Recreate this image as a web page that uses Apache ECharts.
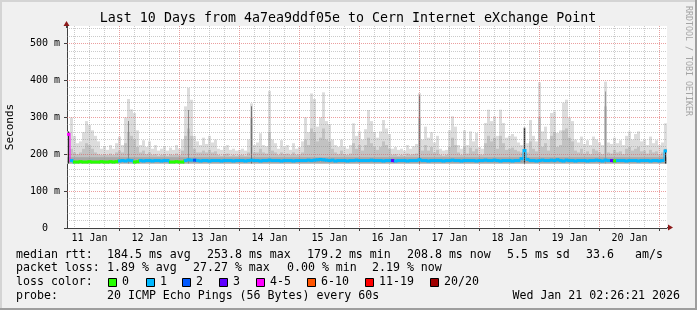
<!DOCTYPE html>
<html><head><meta charset="utf-8">
<script src="https://cdn.jsdelivr.net/npm/echarts@6/dist/echarts.min.js"></script>
<style>html,body{margin:0;padding:0;background:#f0f0f0}#c{width:697px;height:310px}</style>
</head><body><div id="c"></div>
<script>
// ---------------- data ----------------
const titleText = 'Last 10 Days from 4a7ea9ddf05e to Cern Internet eXchange Point';
const dayLabels = ['11 Jan','12 Jan','13 Jan','14 Jan','15 Jan','16 Jan','17 Jan','18 Jan','19 Jan','20 Jan'];
const yTickValues = [0,100,200,300,400,500];
const START_HOUR = 3;      // left edge, hours after 11 Jan 00:00
const END_HOUR = 243;      // right edge
const SLOT_HOURS = 1.2;    // width of one sample
const Y_MAX = 548;         // ms at top of plot
const SMOKE_FLOOR = 175;   // ms, lowest ping in the smoke
const SMOKE_CORE = 192;    // ms, dense core of the smoke

// highest ping per slot (ms)
const smokeMax = [
262,300,250,230,235,260,290,280,265,250,
235,215,222,212,225,215,230,248,225,300,
350,322,312,265,225,238,220,235,215,225,
210,215,222,210,218,212,225,215,240,330,
380,348,250,235,225,245,228,250,232,240,
215,212,220,225,212,215,210,212,215,210,
240,338,225,232,257,225,222,372,240,230,
215,238,220,225,212,230,215,220,235,300,
260,365,350,275,300,368,290,282,240,225,
220,240,220,215,225,284,250,262,240,268,
320,290,260,245,262,293,270,255,215,220,
212,215,210,225,215,222,228,366,240,275,
245,260,232,250,215,210,212,265,303,275,
225,215,265,225,262,235,258,220,215,285,
321,290,303,250,321,285,245,250,255,248,
232,225,272,230,293,250,235,395,262,275,
240,312,316,258,265,340,348,300,290,240,
232,248,228,238,225,248,240,232,225,397,
232,228,245,230,238,225,250,262,240,255,
262,235,240,225,248,230,238,225,232,284];

// upper edge of the denser smoke per slot (ms)
const smokeMid = [
250,215,205,200,205,215,230,225,215,205,
200,198,200,198,202,198,205,210,205,230,
260,250,240,220,205,210,200,205,198,200,
196,198,200,196,200,198,202,198,210,250,
270,250,215,205,205,210,205,212,205,208,
198,196,200,202,196,198,196,198,198,196,
205,300,205,205,215,205,202,260,210,205,
198,205,200,202,198,205,198,200,205,240,
225,270,260,235,245,270,240,235,215,205,
200,210,200,198,202,230,215,225,210,225,
245,230,220,212,220,235,225,215,198,200,
196,198,196,202,198,200,202,300,210,225,
210,220,205,212,198,196,198,220,245,225,
205,198,220,202,218,208,215,200,198,230,
250,235,245,215,250,230,212,215,218,212,
208,205,272,205,235,215,208,300,220,230,
210,250,260,220,225,265,270,245,235,210,
205,215,202,208,200,215,210,205,200,330,
205,202,212,205,208,200,215,220,210,215,
220,208,210,202,212,205,208,200,205,215];

// median rtt per slot (ms)
const medianRtt = [
254,183,179,179,180,179,179,180,179,179,
179,180,179,179,180,179,180,182,183,182,
184,183,179,180,183,182,183,183,182,183,
183,182,183,183,179,179,180,179,179,183,
185,184,184,183,182,183,183,182,183,183,
183,182,183,183,183,182,183,183,183,182,
183,184,183,183,182,183,183,184,183,183,
183,182,183,183,183,182,183,183,183,183,
184,183,184,185,186,185,184,183,184,182,
183,183,183,182,183,183,184,183,183,183,
183,184,183,183,183,182,183,183,183,182,
183,183,183,182,183,183,183,185,183,183,
182,183,183,183,183,182,183,183,184,183,
183,182,183,183,183,183,182,183,183,184,
183,183,184,183,182,183,183,183,182,183,
183,188,210,186,183,183,182,183,184,183,
183,184,183,185,183,182,184,183,183,182,
183,183,183,182,183,183,184,183,182,184,
183,183,182,183,183,183,182,183,183,183,
182,183,183,183,182,183,183,182,183,209];

// lost pings (of 20) per slot
const lossCount = [
5,1,0,0,0,0,0,0,0,0,
0,0,0,0,0,0,0,1,1,1,
1,1,0,0,1,1,1,1,1,1,
1,1,1,1,0,0,0,0,0,1,
1,1,2,1,1,1,1,1,1,1,
1,1,1,1,1,1,1,1,1,1,
1,1,1,1,1,1,1,1,1,1,
1,1,1,1,1,1,1,1,1,1,
1,1,1,1,1,1,1,1,1,1,
1,1,1,1,1,1,1,1,1,1,
1,1,1,1,1,1,1,1,3,1,
1,1,1,1,1,1,1,1,1,1,
1,1,1,1,1,1,1,1,1,1,
1,1,1,1,1,1,1,1,1,1,
1,1,1,1,1,1,1,1,1,1,
1,1,1,1,1,1,1,1,1,1,
1,1,1,1,1,1,1,1,1,1,
1,1,1,1,1,1,1,1,1,1,
1,3,0,1,1,1,1,1,1,1,
1,1,1,1,1,1,1,1,1,1];

// very dense (dark) smoke columns
const darkSlots = [0, 20, 40, 61, 117, 152, 179, 199];
const darkTops  = [262, 290, 320, 330, 360, 272, 370, 212];
const darkShade = ['#222222','#8a8a8a','#8a8a8a','#707070','#707070','#333333','#9a9a9a','#222222'];

const lossLegend = [
  ['0','#26ff00'],['1','#00b8ff'],['2','#0059ff'],['3','#5e00ff'],
  ['4-5','#ff00ff'],['6-10','#ff5500'],['11-19','#ff0000'],['20/20','#a00000']];

const legendRtt  = [['median rtt:',16],['184.5 ms avg',107],['253.8 ms max',207],['179.2 ms min',307],['208.8 ms now',407],['5.5 ms sd',507],['33.6',586],['am/s',635]];
const legendLoss = [['packet loss:',16],['1.89 % avg',107],['27.27 % max',193],['0.00 % min',287],['2.19 % now',372]];
const legendProbe = [['probe:',16],['20 ICMP Echo Pings (56 Bytes) every 60s',107]];
const stampText = 'Wed Jan 21 02:26:21 2026';
const watermark = 'RRDTOOL / TOBI OETIKER';

// ---------------- chart ----------------
const MONO = '"DejaVu Sans Mono", monospace';
const LEG_FONT = 11.6;
function lossColor(n){
  if (n <= 0) return '#26ff00';
  if (n <= 1) return '#00b8ff';
  if (n <= 2) return '#0059ff';
  if (n <= 3) return '#5e00ff';
  if (n <= 5) return '#ff00ff';
  if (n <= 10) return '#ff5500';
  if (n <= 19) return '#ff0000';
  return '#a00000';
}
const slotStart = i => START_HOUR + i * SLOT_HOURS;

const noonHours = dayLabels.map((d, k) => 12 + 24 * k);
const midnightHours = [];
const vGrid = [];
for (let h = 6; h < END_HOUR; h += 6) { vGrid.push([h, 0, h % 24 === 0 ? 1 : 0]); if (h % 24 === 0) midnightHours.push(h); }
const hGrid = [];
for (let v = 20; v < Y_MAX; v += 20) hGrid.push([START_HOUR, v, v % 100 === 0 ? 1 : 0]);

const smokeData = smokeMax.map((m, i) => [slotStart(i), m, smokeMid[i]]);
const darkData = darkSlots.map((s, k) => [slotStart(s), darkTops[k], k]);
const medianData = medianRtt.map((m, i) => [slotStart(i), m, lossCount[i]]);

const MINOR = 'rgba(140,140,140,0.45)';
const MAJOR = 'rgba(222,95,95,0.6)';
const crisp = v => Math.round(v - 0.5) + 0.5;

const chart = echarts.init(document.getElementById('c'), null, {renderer: 'canvas'});
const option = {
  backgroundColor: '#f0f0f0',
  animation: false,
  grid: {left: 67, top: 26, width: 600, height: 202, show: true, backgroundColor: '#ffffff', borderWidth: 0, outerBoundsMode: 'none'},
  xAxis: {
    type: 'value', min: START_HOUR, max: END_HOUR,
    axisLine: {show: true, lineStyle: {color: '#404040', width: 1}},
    axisTick: {show: true, customValues: midnightHours, length: 3, lineStyle: {color: '#404040'}},
    axisLabel: {customValues: noonHours, formatter: v => dayLabels[Math.round((v - 12) / 24)],
      fontFamily: MONO, fontSize: 10, color: '#000', margin: 5},
    splitLine: {show: false}
  },
  yAxis: {
    type: 'value', min: 0, max: Y_MAX,
    name: 'Seconds', nameLocation: 'middle', nameGap: 51, nameRotate: 90,
    nameTextStyle: {fontFamily: MONO, fontSize: 11, color: '#000'},
    axisLine: {show: true, lineStyle: {color: '#404040', width: 1}},
    axisTick: {show: true, customValues: yTickValues, length: 3, lineStyle: {color: '#404040'}},
    axisLabel: {customValues: yTickValues, formatter: v => v === 0 ? '0  ' : v + ' m',
      fontFamily: MONO, fontSize: 10, color: '#000', margin: 7},
    splitLine: {show: false}
  },
  series: [
    { type: 'custom', name: 'smoke', z: 1, clip: true, data: smokeData,
      renderItem: (params, api) => {
        const x0 = api.value(0);
        const b = api.coord([x0, SMOKE_FLOOR]);
        const t = api.coord([x0 + SLOT_HOURS, api.value(1)]);
        const m = api.coord([x0 + SLOT_HOURS, api.value(2)]);
        const c = api.coord([x0 + SLOT_HOURS, SMOKE_CORE]);
        const w = t[0] - b[0];
        return {type: 'group', children: [
          {type: 'rect', shape: {x: b[0], y: t[1], width: w, height: b[1] - t[1]}, style: {fill: '#dcdcdc'}},
          {type: 'rect', shape: {x: b[0], y: m[1], width: w, height: b[1] - m[1]}, style: {fill: '#c2c2c2'}},
          {type: 'rect', shape: {x: b[0], y: c[1], width: w, height: b[1] - c[1]}, style: {fill: '#a8a8a8'}}
        ]};
      } },
    { type: 'custom', name: 'dark', z: 2, clip: true, data: darkData,
      renderItem: (params, api) => {
        const x0 = api.value(0);
        const b = api.coord([x0, SMOKE_FLOOR]);
        const t = api.coord([x0, api.value(1)]);
        return {type: 'rect', shape: {x: Math.round(b[0]) + 1, y: t[1], width: 1, height: b[1] - t[1]}, style: {fill: darkShade[api.value(2)]}};
      } },
    { type: 'custom', name: 'vgrid', z: 3, clip: true, silent: true, data: vGrid,
      renderItem: (params, api) => {
        const p0 = api.coord([api.value(0), 0]);
        const p1 = api.coord([api.value(0), Y_MAX]);
        const x = crisp(p0[0]);
        return {type: 'line', shape: {x1: x, y1: p1[1], x2: x, y2: p0[1]},
          style: {stroke: api.value(2) ? MAJOR : MINOR, lineWidth: 1, lineDash: [1, 1]}};
      } },
    { type: 'custom', name: 'hgrid', z: 3, clip: true, silent: true, data: hGrid,
      renderItem: (params, api) => {
        const p0 = api.coord([START_HOUR, api.value(1)]);
        const p1 = api.coord([END_HOUR, api.value(1)]);
        const y = crisp(p0[1]);
        return {type: 'line', shape: {x1: p0[0], y1: y, x2: p1[0], y2: y},
          style: {stroke: api.value(2) ? MAJOR : MINOR, lineWidth: 1, lineDash: [1, 1]}};
      } },
    { type: 'custom', name: 'median', z: 4, clip: true, data: medianData,
      renderItem: (params, api) => {
        const i = params.dataIndex;
        const x0 = api.value(0);
        const a = api.coord([x0, api.value(1)]);
        const b = api.coord([x0 + SLOT_HOURS, api.value(1)]);
        const col = lossColor(api.value(2));
        const kids = [{type: 'rect', shape: {x: a[0], y: a[1] - 1.5, width: b[0] - a[0], height: 3}, style: {fill: col}}];
        if (i + 1 < medianRtt.length && medianRtt[i + 1] !== medianRtt[i]) {
          const n = api.coord([x0 + SLOT_HOURS, medianRtt[i + 1]]);
          const y1 = Math.min(a[1], n[1]) - 1.5, y2 = Math.max(a[1], n[1]) + 1.5;
          kids.push({type: 'rect', shape: {x: b[0] - 0.5, y: y1, width: 1, height: y2 - y1}, style: {fill: col}});
        }
        return {type: 'group', children: kids};
      } }
  ]
};
chart.setOption(option);

// ---------------- decorations & legend text ----------------
const yTop = chart.convertToPixel({gridIndex: 0}, [START_HOUR, Y_MAX]);
const xEnd = chart.convertToPixel({gridIndex: 0}, [END_HOUR, 0]);
const ARROW = '#8c1a1a';
function txt(s, x, y, align, size){
  return {type: 'text', x: x, y: y, z: 100,
    style: {text: s, fontFamily: MONO, fontSize: size || LEG_FONT, fill: '#000', align: align || 'left', verticalAlign: 'middle'}};
}
const g = [
  {type: 'rect', shape: {x: 0, y: 0, width: 697, height: 2}, style: {fill: '#d4d4d4'}, z: 100},
  {type: 'rect', shape: {x: 0, y: 0, width: 2, height: 310}, style: {fill: '#d4d4d4'}, z: 100},
  {type: 'rect', shape: {x: 0, y: 308, width: 697, height: 2}, style: {fill: '#9e9e9e'}, z: 100},
  {type: 'rect', shape: {x: 695, y: 0, width: 2, height: 310}, style: {fill: '#9e9e9e'}, z: 100},
  {type: 'line', shape: {x1: yTop[0] - 0.5, y1: yTop[1] - 1, x2: yTop[0] - 0.5, y2: yTop[1] + 2}, style: {stroke: '#404040'}, z: 100},
  {type: 'polygon', shape: {points: [[yTop[0] - 3.5, yTop[1]], [yTop[0] + 2.5, yTop[1]], [yTop[0] - 0.5, yTop[1] - 5]]}, style: {fill: ARROW}, z: 100},
  {type: 'line', shape: {x1: xEnd[0], y1: xEnd[1] - 0.5, x2: xEnd[0] + 2, y2: xEnd[1] - 0.5}, style: {stroke: '#404040'}, z: 100},
  {type: 'polygon', shape: {points: [[xEnd[0] + 1, xEnd[1] - 3.5], [xEnd[0] + 1, xEnd[1] + 2.5], [xEnd[0] + 6, xEnd[1] - 0.5]]}, style: {fill: ARROW}, z: 100},
  txt(titleText, 348, 19, 'center', 13.3),
  {type: 'text', x: 688, y: 6, rotation: -Math.PI / 2, z: 100,
    style: {text: watermark, fontFamily: MONO, fontSize: 8.3, fill: '#a4a4a4', align: 'left', verticalAlign: 'middle'}},
  txt('loss color:', 16, 282.3),
  txt(stampText, 680, 296, 'right')
];
legendRtt.forEach(p => g.push(txt(p[0], p[1], 254.5)));
legendLoss.forEach(p => g.push(txt(p[0], p[1], 268.3)));
legendProbe.forEach(p => g.push(txt(p[0], p[1], 296)));
const sqX = [108, 146, 182, 219, 256, 307, 365, 430];
lossLegend.forEach((it, k) => {
  g.push({type: 'rect', shape: {x: sqX[k] + 0.5, y: 278.5, width: 8, height: 8}, style: {fill: it[1], stroke: '#000', lineWidth: 1}, z: 100});
  g.push(txt(it[0], sqX[k] + 14, 282.3));
});
chart.setOption({graphic: g});
</script></body></html>
